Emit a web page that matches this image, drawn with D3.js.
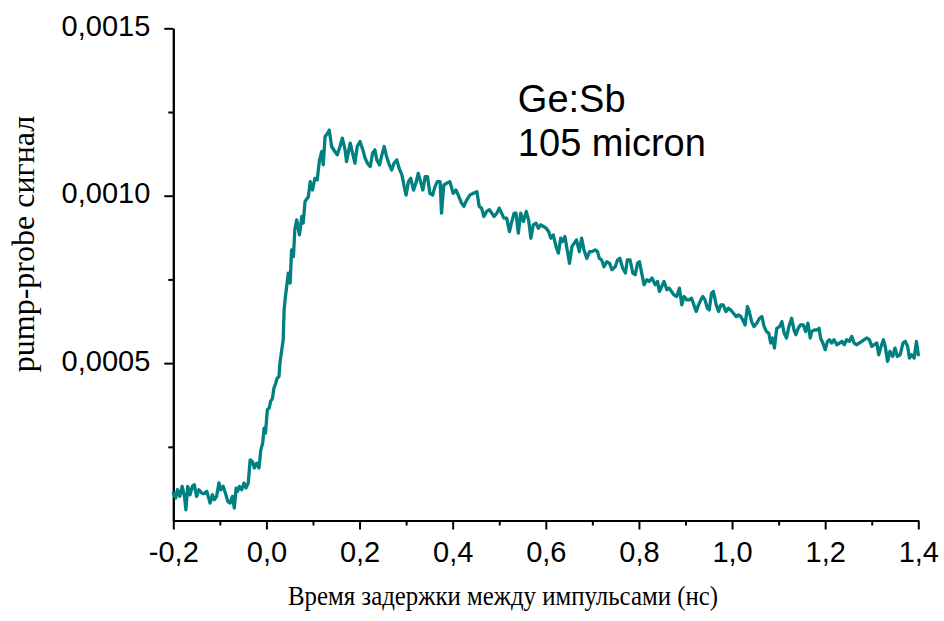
<!DOCTYPE html>
<html>
<head>
<meta charset="utf-8">
<script src="https://cdnjs.cloudflare.com/ajax/libs/d3/7.8.5/d3.min.js"></script>
<style>
  html, body { margin: 0; padding: 0; background: #fff; }
  #pump-probe-plot { width: 944px; height: 621px; }
</style>
</head>
<body>
<div id="pump-probe-plot"></div>
<script>

// time delay between pulses, ns
var delay_ns = [
  -0.200, -0.195, -0.191, -0.186, -0.181, -0.176, -0.173, -0.169, -0.164, -0.159,
  -0.155, -0.150, -0.145, -0.139, -0.134, -0.128, -0.125, -0.121, -0.116, -0.112,
  -0.107, -0.102, -0.098, -0.093, -0.087, -0.083, -0.078, -0.073, -0.069, -0.065,
  -0.062, -0.058, -0.053, -0.048, -0.044, -0.039, -0.035, -0.030, -0.026, -0.021,
  -0.016, -0.012, -0.008, -0.005, -0.002, 0.002, 0.006, 0.009, 0.013, 0.016,
  0.020, 0.023, 0.027, 0.029, 0.033, 0.036, 0.038, 0.040, 0.047, 0.051,
  0.054, 0.058, 0.061, 0.065, 0.071, 0.076, 0.079, 0.083, 0.090, 0.094,
  0.099, 0.104, 0.109, 0.114, 0.119, 0.122, 0.126, 0.131, 0.135, 0.140,
  0.147, 0.152, 0.158, 0.163, 0.169, 0.172, 0.180, 0.185, 0.190, 0.195,
  0.201, 0.207, 0.212, 0.217, 0.223, 0.228, 0.233, 0.237, 0.243, 0.248,
  0.253, 0.258, 0.264, 0.269, 0.274, 0.280, 0.285, 0.291, 0.296, 0.300,
  0.305, 0.310, 0.316, 0.321, 0.326, 0.331, 0.336, 0.341, 0.346, 0.351,
  0.357, 0.362, 0.367, 0.373, 0.376, 0.381, 0.387, 0.394, 0.401, 0.407,
  0.412, 0.419, 0.424, 0.430, 0.437, 0.444, 0.452, 0.457, 0.462, 0.467,
  0.473, 0.479, 0.484, 0.489, 0.495, 0.500, 0.505, 0.510, 0.516, 0.522,
  0.527, 0.532, 0.536, 0.541, 0.546, 0.552, 0.558, 0.563, 0.568, 0.573,
  0.579, 0.584, 0.589, 0.595, 0.601, 0.606, 0.611, 0.616, 0.622, 0.627,
  0.632, 0.636, 0.641, 0.646, 0.651, 0.656, 0.661, 0.666, 0.672, 0.677,
  0.682, 0.688, 0.694, 0.699, 0.706, 0.711, 0.715, 0.720, 0.725, 0.731,
  0.737, 0.742, 0.749, 0.754, 0.759, 0.765, 0.771, 0.775, 0.781, 0.787,
  0.792, 0.797, 0.801, 0.806, 0.811, 0.817, 0.822, 0.828, 0.835, 0.840,
  0.844, 0.849, 0.854, 0.860, 0.865, 0.870, 0.875, 0.881, 0.887, 0.892,
  0.897, 0.903, 0.908, 0.913, 0.918, 0.923, 0.928, 0.933, 0.937, 0.942,
  0.947, 0.951, 0.956, 0.960, 0.966, 0.971, 0.976, 0.981, 0.987, 0.992,
  0.997, 1.003, 1.009, 1.014, 1.019, 1.023, 1.028, 1.033, 1.037, 1.042,
  1.047, 1.053, 1.059, 1.064, 1.069, 1.074, 1.079, 1.083, 1.087, 1.091,
  1.096, 1.102, 1.107, 1.112, 1.117, 1.122, 1.128, 1.133, 1.137, 1.142,
  1.147, 1.153, 1.158, 1.163, 1.168, 1.171, 1.176, 1.182, 1.187, 1.190,
  1.195, 1.200, 1.205, 1.209, 1.214, 1.219, 1.225, 1.231, 1.236, 1.241,
  1.246, 1.252, 1.257, 1.262, 1.268, 1.273, 1.279, 1.284, 1.289, 1.295,
  1.300, 1.305, 1.311, 1.315, 1.319, 1.325, 1.329, 1.334, 1.339, 1.345,
  1.350, 1.355, 1.361, 1.367, 1.372, 1.377, 1.381, 1.386, 1.391, 1.396,
  1.400
];

// pump-probe signal, same order as delay_ns
var signal = [
  0.000112, 0.000097, 0.000122, 0.000102, 0.000132, 0.000102, 0.000062, 0.000132, 0.000107, 0.000132,
  0.000137, 0.000102, 0.000122, 0.000112, 0.000110, 0.000117, 0.000102, 0.000082, 0.000107, 0.000092,
  0.000102, 0.000142, 0.000122, 0.000132, 0.000107, 0.000087, 0.000082, 0.000102, 0.000067, 0.000127,
  0.000117, 0.000132, 0.000122, 0.000142, 0.000127, 0.000142, 0.000211, 0.000206, 0.000187, 0.000201,
  0.000187, 0.000241, 0.000261, 0.000306, 0.000291, 0.000361, 0.000366, 0.000386, 0.000395, 0.000425,
  0.000440, 0.000455, 0.000460, 0.000500, 0.000540, 0.000570, 0.000659, 0.000689, 0.000769, 0.000739,
  0.000838, 0.000818, 0.000898, 0.000928, 0.000883, 0.000938, 0.000918, 0.000983, 0.000997, 0.001042,
  0.001017, 0.001052, 0.001047, 0.001107, 0.001132, 0.001092, 0.001177, 0.001186, 0.001196, 0.001147,
  0.001132, 0.001122, 0.001147, 0.001172, 0.001137, 0.001102, 0.001157, 0.001127, 0.001097, 0.001147,
  0.001162, 0.001137, 0.001112, 0.001097, 0.001087, 0.001127, 0.001137, 0.001107, 0.001092, 0.001122,
  0.001147, 0.001117, 0.001092, 0.001077, 0.001097, 0.001107, 0.001082, 0.001062, 0.001027, 0.001002,
  0.001042, 0.001052, 0.001017, 0.001037, 0.001067, 0.001042, 0.001017, 0.001057, 0.001057, 0.001007,
  0.001002, 0.001027, 0.001042, 0.001042, 0.000948, 0.001032, 0.001037, 0.001042, 0.001007, 0.001017,
  0.001002, 0.000978, 0.000968, 0.000987, 0.001002, 0.001007, 0.001012, 0.000968, 0.000963, 0.000938,
  0.000953, 0.000958, 0.000948, 0.000938, 0.000948, 0.000963, 0.000948, 0.000933, 0.000933, 0.000893,
  0.000923, 0.000948, 0.000948, 0.000888, 0.000948, 0.000923, 0.000953, 0.000928, 0.000873, 0.000913,
  0.000918, 0.000903, 0.000913, 0.000908, 0.000903, 0.000893, 0.000873, 0.000883, 0.000848, 0.000828,
  0.000873, 0.000863, 0.000878, 0.000838, 0.000798, 0.000848, 0.000858, 0.000868, 0.000833, 0.000873,
  0.000838, 0.000813, 0.000833, 0.000833, 0.000838, 0.000833, 0.000813, 0.000808, 0.000788, 0.000803,
  0.000798, 0.000779, 0.000788, 0.000808, 0.000813, 0.000784, 0.000769, 0.000808, 0.000808, 0.000769,
  0.000764, 0.000798, 0.000803, 0.000769, 0.000734, 0.000749, 0.000744, 0.000754, 0.000734, 0.000744,
  0.000714, 0.000729, 0.000744, 0.000719, 0.000724, 0.000714, 0.000704, 0.000699, 0.000724, 0.000674,
  0.000699, 0.000689, 0.000689, 0.000694, 0.000674, 0.000654, 0.000674, 0.000689, 0.000699, 0.000689,
  0.000664, 0.000659, 0.000709, 0.000714, 0.000674, 0.000654, 0.000674, 0.000674, 0.000654, 0.000664,
  0.000659, 0.000649, 0.000639, 0.000644, 0.000639, 0.000629, 0.000614, 0.000669, 0.000654, 0.000624,
  0.000609, 0.000619, 0.000634, 0.000639, 0.000609, 0.000594, 0.000589, 0.000560, 0.000575, 0.000545,
  0.000604, 0.000609, 0.000624, 0.000589, 0.000575, 0.000609, 0.000634, 0.000599, 0.000585, 0.000604,
  0.000614, 0.000614, 0.000594, 0.000619, 0.000575, 0.000594, 0.000599, 0.000599, 0.000604, 0.000575,
  0.000560, 0.000540, 0.000565, 0.000570, 0.000560, 0.000570, 0.000555, 0.000560, 0.000565, 0.000555,
  0.000570, 0.000565, 0.000580, 0.000560, 0.000555, 0.000560, 0.000565, 0.000570, 0.000575, 0.000570,
  0.000550, 0.000555, 0.000560, 0.000525, 0.000545, 0.000570, 0.000550, 0.000505, 0.000535, 0.000520,
  0.000545, 0.000520, 0.000525, 0.000560, 0.000565, 0.000550, 0.000515, 0.000525, 0.000515, 0.000565,
  0.000525
];

// axis ticks
var x_major_ticks = [-0.2, 0.0, 0.2, 0.4, 0.6, 0.8, 1.0, 1.2, 1.4];
var x_minor_ticks = [-0.1, 0.1, 0.3, 0.5, 0.7, 0.9, 1.1, 1.3];
var y_major_ticks = [0.0005, 0.0010, 0.0015];
var y_minor_ticks = [0.00025, 0.00075, 0.00125];

// annotation and titles
var sample_label = ["Ge:Sb", "105 micron"];
var x_title = "Время задержки между импульсами (нс)";
var y_title = "pump-probe сигнал";

/**
 * Constructor
 */
function PumpProbePlot(lineColor){
  var self = this;
  self.lineColor = lineColor;
  self.init();
}; // end constructor

/**
 * sets up the svg and the scales
 */
PumpProbePlot.prototype.init = function(){
  var self = this;
  self.width = 944;
  self.height = 621;
  self.margin = {top: 28.3, right: 25.7, bottom: 100.5, left: 173.3};

  self.div = d3.select("#pump-probe-plot");
  self.svg = self.div.append("svg")
    .attr("width", self.width)
    .attr("height", self.height);

  self.plotW = self.width - self.margin.left - self.margin.right;
  self.plotH = self.height - self.margin.top - self.margin.bottom;

  self.g = self.svg.append("g")
    .attr("transform", "translate(" + self.margin.left + "," + self.margin.top + ")");

  self.x = d3.scaleLinear().domain([-0.2, 1.4]).range([0, self.plotW]);
  self.y = d3.scaleLinear().domain([0.00003, 0.0015]).range([self.plotH, 0]);

  // comma as decimal separator, like the original
  self.locale = d3.formatLocale({decimal: ",", thousands: " ", grouping: [3], currency: ["", ""], minus: "-"});
}; // end init()

/**
 * draws axes, trace and text
 */
PumpProbePlot.prototype.visualize = function(){
  var self = this;
  var sansFont = "'Liberation Sans', Arial, Helvetica, sans-serif";
  var serifFont = "'Liberation Serif', 'Times New Roman', serif";

  // minor ticks first, so major ones sit on top
  self.g.append("g")
    .attr("class", "x-minor")
    .attr("transform", "translate(0," + self.plotH + ")")
    .call(d3.axisBottom(self.x).tickValues(x_minor_ticks).tickSize(5).tickSizeOuter(0).tickFormat(""));

  self.g.append("g")
    .attr("class", "y-minor")
    .call(d3.axisLeft(self.y).tickValues(y_minor_ticks).tickSize(5).tickSizeOuter(0).tickFormat(""));

  var xAxis = self.g.append("g")
    .attr("class", "x-axis")
    .attr("transform", "translate(0," + self.plotH + ")")
    .call(d3.axisBottom(self.x)
      .tickValues(x_major_ticks)
      .tickSize(9)
      .tickSizeOuter(0)
      .tickPadding(12)
      .tickFormat(self.locale.format(".1f")));

  var yAxis = self.g.append("g")
    .attr("class", "y-axis")
    .call(d3.axisLeft(self.y)
      .tickValues(y_major_ticks)
      .tickSize(9)
      .tickSizeOuter(0)
      .tickPadding(14)
      .tickFormat(self.locale.format(".4f")));

  // style all the axis bits the same way
  self.g.selectAll(".x-axis, .y-axis, .x-minor, .y-minor")
    .selectAll("path, line")
    .attr("stroke", "#000")
    .attr("stroke-width", 2);

  xAxis.selectAll("text")
    .attr("fill", "#000")
    .style("font-family", sansFont)
    .style("font-size", "29px");

  yAxis.selectAll("text")
    .attr("fill", "#000")
    .attr("dy", "0.25em")
    .style("font-family", sansFont)
    .style("font-size", "29px");

  // the signal trace
  var points = delay_ns.map(function(d, i){ return {t: d, s: signal[i]}; });
  var line = d3.line()
    .x(function(d){ return self.x(d.t); })
    .y(function(d){ return self.y(d.s); });

  self.g.append("path")
    .datum(points)
    .attr("d", line)
    .attr("fill", "none")
    .attr("stroke", self.lineColor)
    .attr("stroke-width", 3.3)
    .attr("stroke-linejoin", "round")
    .attr("stroke-linecap", "round");

  // sample annotation, anchored in data coordinates
  self.g.append("text")
    .attr("x", self.x(0.54))
    .attr("y", self.y(0.001251))
    .style("font-family", sansFont)
    .style("font-size", "38px")
    .attr("fill", "#000")
    .selectAll("tspan")
    .data(sample_label)
    .enter()
    .append("tspan")
    .attr("x", self.x(0.54))
    .attr("dy", function(d, i){ return i === 0 ? 0 : "1.17em"; })
    .text(function(d){ return d; });

  // axis titles
  self.svg.append("text")
    .attr("x", 503)
    .attr("y", 605)
    .attr("text-anchor", "middle")
    .attr("textLength", 430)
    .attr("lengthAdjust", "spacingAndGlyphs")
    .style("font-family", serifFont)
    .style("font-size", "28px")
    .attr("fill", "#000")
    .text(x_title);

  self.svg.append("text")
    .attr("transform", "translate(34,244) rotate(-90)")
    .attr("text-anchor", "middle")
    .style("font-family", serifFont)
    .style("font-size", "32px")
    .attr("fill", "#000")
    .text(y_title);
}; // end visualize()

var plot = new PumpProbePlot("#008080");
plot.visualize();

</script>
</body>
</html>
